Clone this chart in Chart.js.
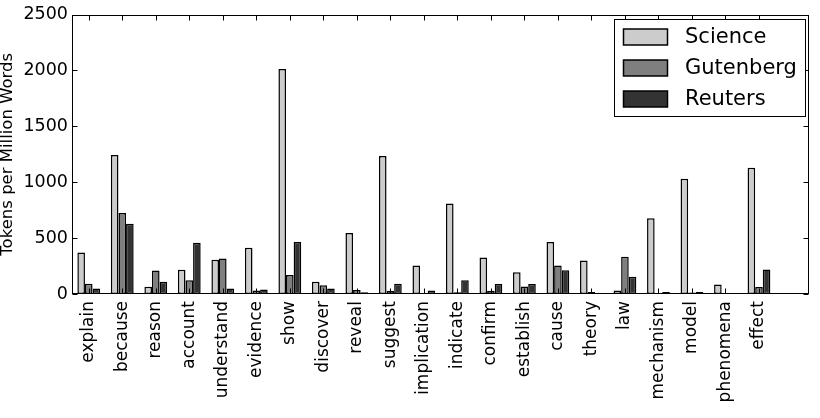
<!DOCTYPE html>
<html>
<head>
<meta charset="utf-8">
<script src="https://cdn.jsdelivr.net/npm/chart.js@4.4.0/dist/chart.umd.min.js"></script>
<style>
  body { margin: 0; background: #fff; }
  canvas { display: block; }
</style>
</head>
<body>
<canvas id="chart" width="820" height="418"></canvas>
<script>
// words on the x axis (an empty slot at the end gives the extra room on the right)
const words = ['explain', 'because', 'reason', 'account', 'understand', 'evidence', 'show',
  'discover', 'reveal', 'suggest', 'implication', 'indicate', 'confirm', 'establish',
  'cause', 'theory', 'law', 'mechanism', 'model', 'phenomena', 'effect', ''];

const science   = [372, 1244, 65, 216, 307, 414, 2012, 109, 546, 1235, 254, 810, 326, 194, 464, 300, 32, 678, 1030, 85, 1130];
const gutenberg = [92, 725, 210, 123, 317, 32, 170, 79, 35, 28, 10, 15, 28, 66, 254, 17, 333, 4, 14, 3, 63];
const reuters   = [50, 628, 110, 459, 50, 41, 464, 50, 15, 91, 32, 122, 90, 90, 212, 8, 154, 19, 17, 6, 220];

const yTicks = [0, 500, 1000, 1500, 2000, 2500];

const FONT = 'DejaVu Sans';

// spines, inward ticks and the boxed legend, matplotlib style
const frame = {
  id: 'frame',
  afterDraw(chart) {
    const ctx = chart.ctx;
    const a = chart.chartArea;
    const xs = chart.scales.x, ys = chart.scales.y;
    const L = Math.round(a.left) + 0.5, R = Math.round(a.right) - 0.5;
    const T = Math.round(a.top) + 0.5, B = Math.round(a.bottom) - 0.5;
    ctx.save();
    ctx.strokeStyle = '#000';
    ctx.lineWidth = 1;
    ctx.beginPath();
    for (let i = 0; i < words.length - 1; i++) {
      const x = Math.round(xs.getPixelForTick(i)) + 0.5;
      ctx.moveTo(x, B); ctx.lineTo(x, B - 5);
      ctx.moveTo(x, T); ctx.lineTo(x, T + 5);
    }
    yTicks.forEach(v => {
      const y = Math.round(ys.getPixelForValue(v)) + 0.5;
      ctx.moveTo(L, y); ctx.lineTo(L + 5, y);
      ctx.moveTo(R, y); ctx.lineTo(R - 5, y);
    });
    ctx.stroke();
    ctx.strokeRect(L, T, R - L, B - T);

    // legend
    const bx = 614.5, by = 19.5, bw = 191, bh = 97;
    ctx.fillStyle = '#fff';
    ctx.fillRect(bx, by, bw, bh);
    ctx.strokeRect(bx, by, bw, bh);
    ctx.font = '21px "' + FONT + '"';
    ctx.textBaseline = 'middle';
    chart.data.datasets.forEach((ds, i) => {
      const cy = 37 + i * 31;
      ctx.fillStyle = ds.backgroundColor;
      ctx.fillRect(623.5, cy - 8, 44, 16);
      ctx.lineWidth = 1.5;
      ctx.strokeRect(623.5, cy - 8, 44, 16);
      ctx.lineWidth = 1;
      ctx.fillStyle = '#000';
      ctx.fillText(ds.label, 685, cy + 1);
    });
    ctx.restore();
  }
};

new Chart(document.getElementById('chart'), {
  type: 'bar',
  data: {
    labels: words,
    datasets: [
      { label: 'Science', data: science, backgroundColor: '#cccccc' },
      { label: 'Gutenberg', data: gutenberg, backgroundColor: '#7f7f7f' },
      { label: 'Reuters', data: reuters, backgroundColor: '#333333' }
    ]
  },
  options: {
    responsive: false,
    animation: false,
    layout: { padding: { top: 10, right: 5, left: 0, bottom: 0 } },
    datasets: {
      bar: {
        borderColor: '#000',
        borderWidth: 1.5,
        borderSkipped: false,
        categoryPercentage: 0.68,
        barPercentage: 1.0
      }
    },
    plugins: {
      legend: { display: false },
      tooltip: { enabled: false }
    },
    scales: {
      x: {
        grid: { display: false, drawTicks: false },
        border: { display: false },
        ticks: {
          autoSkip: false,
          maxRotation: 90,
          minRotation: 90,
          padding: 7,
          color: '#000',
          font: { family: FONT, size: 17 }
        },
        afterFit(s) { s.height = 124; }
      },
      y: {
        min: 0,
        max: 2500,
        grid: { display: false, drawTicks: false },
        border: { display: false },
        afterBuildTicks(s) { s.ticks = yTicks.map(v => ({ value: v })); },
        ticks: {
          padding: 4,
          color: '#000',
          font: { family: FONT, size: 17.5 },
          callback: v => String(v)
        },
        title: {
          display: true,
          text: 'Tokens per Million Words',
          color: '#000',
          padding: { top: -2, bottom: 0 },
          font: { family: FONT, size: 16.5 }
        },
        afterFit(s) { s.width = 72; }
      }
    }
  },
  plugins: [frame]
});
</script>
</body>
</html>
